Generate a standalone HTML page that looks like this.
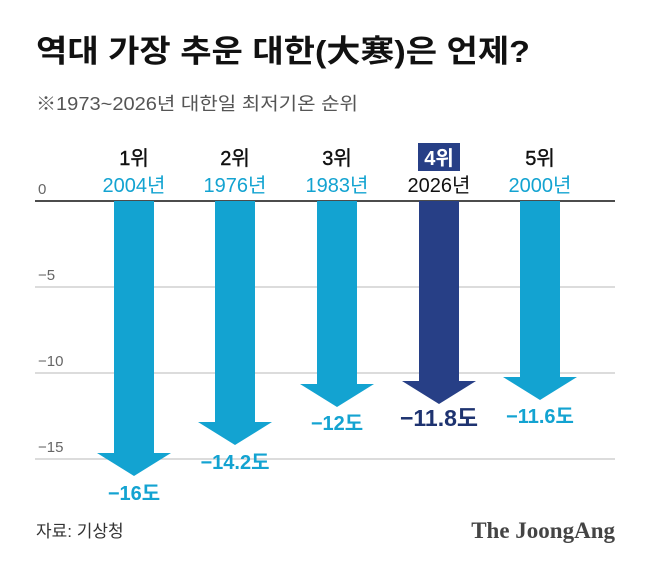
<!DOCTYPE html>
<html><head><meta charset="utf-8"><style>
body{margin:0;background:#fff;}
svg text{font-family:"Liberation Sans","Noto Sans CJK KR",sans-serif;}
</style></head><body>
<svg width="658" height="569" viewBox="0 0 658 569" xmlns="http://www.w3.org/2000/svg">
<rect width="658" height="569" fill="#fff"/>
<text x="36" y="62" font-size="31" font-weight="bold" fill="#111" textLength="494" lengthAdjust="spacingAndGlyphs">역대 가장 추운 대한(大寒)은 언제?</text>
<text x="36" y="110" font-size="18" fill="#555" textLength="322" lengthAdjust="spacingAndGlyphs">※1973~2026년 대한일 최저기온 순위</text>
<g stroke="#c8c8c8" stroke-width="1.3">
<line x1="35" y1="287" x2="615" y2="287"/>
<line x1="35" y1="373" x2="615" y2="373"/>
<line x1="35" y1="459" x2="615" y2="459"/>
</g>
<line x1="35" y1="201" x2="615" y2="201" stroke="#111" stroke-width="1.5"/>
<g font-size="15" fill="#666">
<text x="38" y="194">0</text>
<text x="38" y="280">−5</text>
<text x="38" y="366">−10</text>
<text x="38" y="452">−15</text>
</g>
<g fill="#13a3d1">
<polygon points="114,201 154,201 154,453 171,453 134,476 97,453 114,453"/>
<polygon points="215,201 255,201 255,422 272,422 235,445 198,422 215,422"/>
<polygon points="317,201 357,201 357,384 374,384 337,407 300,384 317,384"/>
<polygon points="520,201 560,201 560,377 577,377 540,400 503,377 520,377"/>
</g>
<polygon fill="#273f86" points="419,201 459,201 459,381 476,381 439,404 402,381 419,381"/>
<g font-size="20" text-anchor="middle" fill="#111" stroke="#111" stroke-width="0.4">
<text x="134" y="165">1위</text>
<text x="235" y="165">2위</text>
<text x="337" y="165">3위</text>
<text x="540" y="165">5위</text>
</g>
<rect x="418" y="143" width="42" height="28" fill="#273f86"/>
<text x="439" y="165" font-size="20" font-weight="bold" text-anchor="middle" fill="#fff">4위</text>
<g font-size="20" text-anchor="middle" fill="#13a3d1">
<text x="134" y="192">2004년</text>
<text x="235" y="192">1976년</text>
<text x="337" y="192">1983년</text>
<text x="540" y="192">2000년</text>
</g>
<text x="439" y="192" font-size="20" text-anchor="middle" fill="#111">2026년</text>
<g font-size="20" font-weight="bold" text-anchor="middle" fill="#13a3d1">
<text x="134" y="500">−16도</text>
<text x="235" y="469">−14.2도</text>
<text x="337" y="430">−12도</text>
<text x="540" y="423">−11.6도</text>
</g>
<text x="439" y="426" font-size="23" font-weight="bold" text-anchor="middle" fill="#1e3370">−11.8도</text>
<text x="36" y="537" font-size="17" fill="#333">자료: 기상청</text>
<text x="615" y="538" font-size="23" font-weight="bold" text-anchor="end" fill="#444" style="font-family:'Liberation Serif',serif">The JoongAng</text>
</svg>
</body></html>
